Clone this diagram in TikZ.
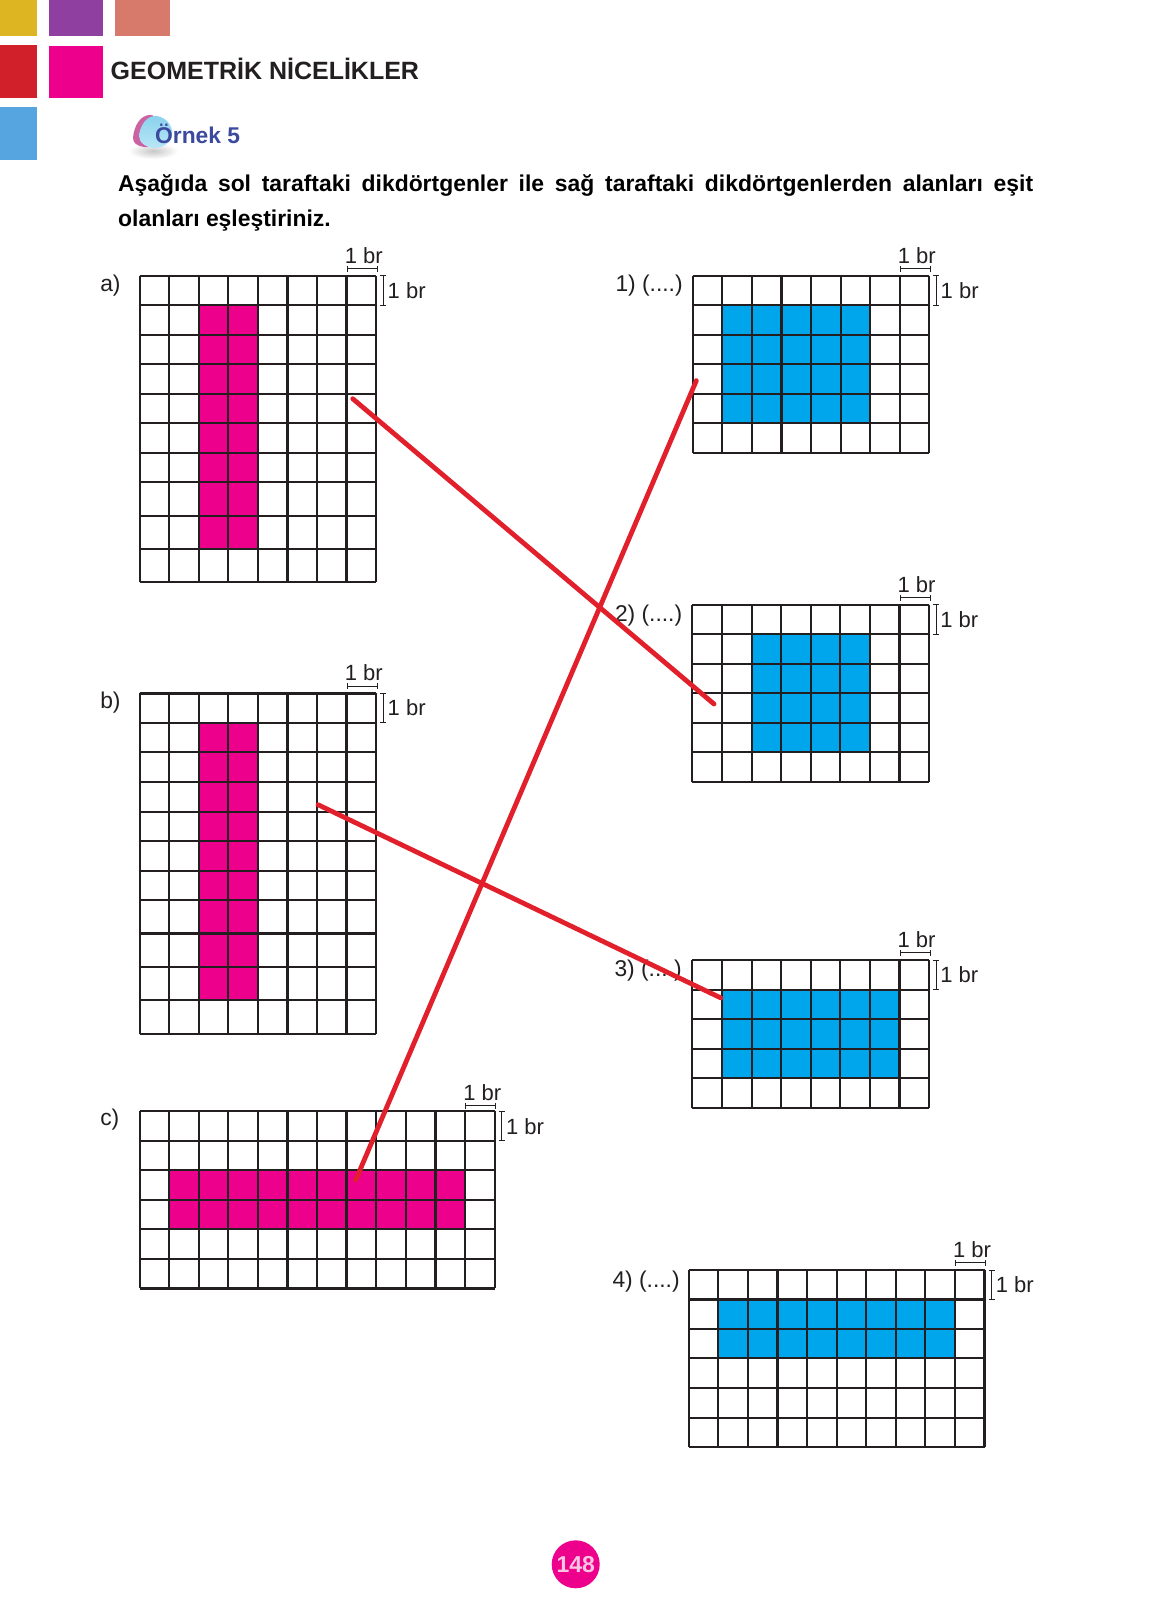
\documentclass[tikz,border=0pt]{standalone}
\usepackage{fontspec}
\setmainfont{Liberation Sans}
\usetikzlibrary{shadings}
\definecolor{ink}{HTML}{231F20}
\definecolor{pinkfill}{HTML}{EC008C}
\definecolor{bluefill}{HTML}{00A6EB}
\definecolor{redline}{HTML}{E2202C}
\definecolor{sqyellow}{HTML}{DDB522}
\definecolor{sqpurple}{HTML}{8E3F9F}
\definecolor{sqsalmon}{HTML}{D87A6B}
\definecolor{sqred}{HTML}{D2202A}
\definecolor{sqsky}{HTML}{56A5E0}
\definecolor{titleblue}{HTML}{3B4A9F}
\definecolor{badgepink}{HTML}{CB62A2}
\definecolor{badgetop}{HTML}{8AD2EE}
\definecolor{badgelow}{HTML}{B9E6F6}
\definecolor{pagetext}{HTML}{F9C4E2}
\tikzset{
  gridline/.style={draw=ink,line width=2.1pt,line cap=square},
  heavyline/.style={draw=ink,line width=2.8pt,line cap=square},
  dimline/.style={draw=ink,line width=1pt},
  answerline/.style={draw=redline,line width=4.8pt,line cap=round},
  lab/.style={inner sep=0pt,outer sep=0pt,anchor=base west,text=ink,font=\fontsize{22}{26}\selectfont},
  tag/.style={inner sep=0pt,outer sep=0pt,anchor=base west,text=ink,font=\fontsize{22.8}{26}\selectfont},
  toplab/.style={inner sep=0pt,outer sep=0pt,anchor=base,text=ink,font=\fontsize{22}{26}\selectfont},
}
% #1 left, #2 cols, #3 top, #4 bottom, #5 y list
\newcommand{\squaregrid}[5]{%
  \foreach \yy in {#5}{\draw[gridline] (#1,\yy) -- ({#1+#2*29.58},\yy);}
  \foreach \ii in {0,...,#2}{\draw[gridline] ({#1+\ii*29.58},#3) -- ({#1+\ii*29.58},#4);}
}
% #1 name, #2 right, #3 top, #4 top-label shift, #5 side-label shift
\newcommand{\unitmarks}[5]{%
  \draw[dimline] ({#2-29},{#3-7.2-#4-3}) -- ({#2-29},{#3-7.2-#4+3});
  \draw[dimline] ({#2+1},{#3-7.2-#4-3}) -- ({#2+1},{#3-7.2-#4+3});
  \draw[dimline] ({#2-29},{#3-7.2-#4}) -- ({#2+1},{#3-7.2-#4});
  \draw[dimline] ({#2+4},#3) -- ({#2+10},#3);
  \draw[dimline] ({#2+4},{#3+29.5}) -- ({#2+10},{#3+29.5});
  \draw[dimline] ({#2+7},#3) -- ({#2+7},{#3+29.5});
  \node[toplab] (#1top) at ({#2-12.5},{#3-12.4-#4}) {1 br};
  \node[lab] (#1side) at ({#2+11.4},{#3+22.4+#5}) {1 br};
}
\begin{document}
\begin{tikzpicture}[x=1pt,y=-1pt]
\useasboundingbox (0,0) rectangle (1151,1624);
\fill[white] (0,0) rectangle (1151,1624);
% corner squares
\fill[sqyellow] (0,0) rectangle (37,36);
\fill[sqpurple] (49,0) rectangle (103,36);
\fill[sqsalmon] (115,0) rectangle (170,36);
\fill[sqred] (0,45) rectangle (37,98);
\fill[pinkfill] (49,46) rectangle (103,98);
\fill[sqsky] (0,107) rectangle (37,160);
% headings
\node[inner sep=0pt,anchor=base west,text=ink,font=\bfseries\fontsize{25}{30}\selectfont] (heading) at (110.5,79.2) {GEOMETRİK NİCELİKLER};
% badge
\shade[inner color=black!22,outer color=white] (153,151) ellipse [x radius=25,y radius=8];
\fill[badgepink] (133,138) .. controls (134,125) and (141,115) .. (150,115)
  .. controls (158,115) and (160,125) .. (158,135) .. controls (156,146) and (148,148) .. (144,147)
  .. controls (137,146) and (133,143) .. (133,138) -- cycle;
\shade[top color=badgetop,bottom color=badgelow]
  (139,136) .. controls (140,125) and (147,116) .. (155,116) .. controls (163,116) and (170,122) .. (172,130)
  .. controls (174,140) and (165,148) .. (155,148) .. controls (147,148) and (139,143) .. (139,136) -- cycle;
\node[inner sep=0pt,anchor=base west,text=titleblue,font=\bfseries\fontsize{22.8}{26}\selectfont] (example) at (155,143.7) {Örnek 5};
% question
\node[inner sep=0pt,anchor=base west,text=black,font=\bfseries\fontsize{22.9}{35}\selectfont] (q1) at (118,191.2)
  {\makebox[915pt][s]{Aşağıda sol taraftaki dikdörtgenler ile sağ taraftaki dikdörtgenlerden alanları eşit}};
\node[inner sep=0pt,anchor=base west,text=black,font=\bfseries\fontsize{22.9}{35}\selectfont] (q2) at (118,226) {olanları eşleştiriniz.};
% fills
\fill[pinkfill] (199,304.7) rectangle (258,549);
\fill[pinkfill] (199,722.7) rectangle (258,1000);
\fill[pinkfill] (169,1170) rectangle (464.7,1229);
\fill[bluefill] (722,304.7) rectangle (869.5,422.7);
\fill[bluefill] (752,634) rectangle (869.5,752);
\fill[bluefill] (722,989.7) rectangle (899,1077.7);
\fill[bluefill] (718.5,1299.3) rectangle (954.7,1358.3);
% grids
\squaregrid{139.7}{8}{275.7}{582}{275.7,304.7,335,364,394,423,452.7,482.3,516,549,582}
\squaregrid{139.7}{8}{693.3}{1033.7}{693.3,722.7,752,782,811.7,840.7,870.7,900,933.3,966.7,1000,1033.7}
\squaregrid{139.7}{12}{1111}{1288.3}{1111,1140.7,1170,1199.7,1229,1258.7,1288.3}
\squaregrid{692.7}{8}{275.7}{452.7}{275.7,304.7,335,364,394,423,452.7}
\squaregrid{692.4}{8}{604.7}{781.7}{604.7,634,664,693,723,752,781.7}
\squaregrid{692.4}{8}{960}{1108}{960,989.7,1019,1048.7,1077.7,1108}
\squaregrid{688.7}{10}{1270}{1447.3}{1270,1299.3,1329,1358.3,1388,1418,1447.3}
% heavier rules
\foreach \xx in {287.6,346.8}{
  \draw[heavyline] (\xx,275.7) -- (\xx,582);
  \draw[heavyline] (\xx,693.3) -- (\xx,1033.7);
  \draw[heavyline] (\xx,1111) -- (\xx,1288.3);
}
\foreach \yy in {693.3,752,933.3}{\draw[heavyline] (139.7,\yy) -- (376.3,\yy);}
\draw[heavyline] (139.7,1288.3) -- (494.7,1288.3);
\draw[heavyline] (139.7,1111) -- (494.7,1111);
\draw[heavyline] (688.7,1299.3) -- (984.5,1299.3);
% units
\unitmarks{a}{376.3}{275.7}{0}{0}
\unitmarks{b}{376.3}{693.3}{0}{0}
\unitmarks{c}{494.7}{1111}{-2}{1.5}
\unitmarks{one}{929.3}{275.7}{0}{0}
\unitmarks{two}{929}{604.7}{0}{0}
\unitmarks{three}{929}{960}{0}{0}
\unitmarks{four}{984.5}{1270}{0}{0}
% letters
\node[tag] (la) at (100.3,291.7) {a)};
\node[tag] (lb) at (100.3,708.5) {b)};
\node[tag] (lc) at (100.3,1125) {c)};
\node[tag] (l1) at (615.5,291) {1) (....)};
\node[tag] (l2) at (615,621.5) {2) (....)};
\node[tag] (l3) at (614.5,976.7) {3) (....)};
\node[tag] (l4) at (612.5,1287.3) {4) (....)};
% answers
\coordinate (ansA) at (352.7,398.7);
\coordinate (ansTwo) at (714,704);
\coordinate (ansC) at (355.7,1180);
\coordinate (ansOne) at (696.3,380.7);
\coordinate (ansB) at (318,804.7);
\coordinate (ansThree) at (721,998);
\draw[answerline] (ansA) -- (ansTwo);
\draw[answerline] (ansC) -- (ansOne);
\draw[answerline] (ansB) -- (ansThree);
% page number
\node[circle,fill=pinkfill,minimum size=48pt,inner sep=0pt,text=pagetext,font=\bfseries\fontsize{23}{26}\selectfont] (page) at (575.7,1564.3) {148};
\end{tikzpicture}
\end{document}
